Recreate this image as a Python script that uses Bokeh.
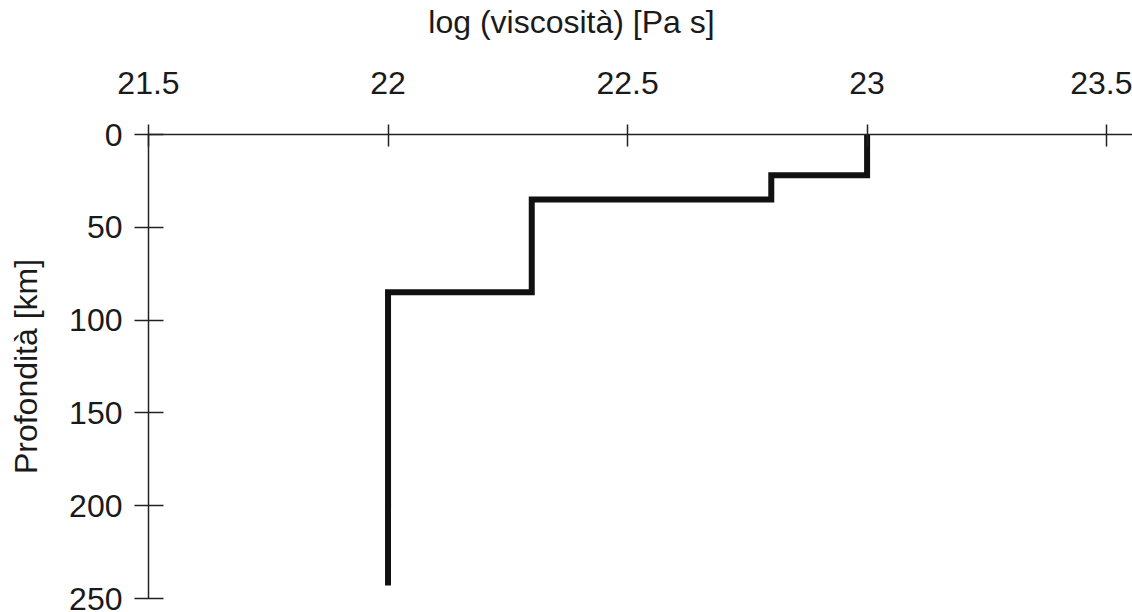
from bokeh.plotting import figure
from bokeh.models import Range1d, FixedTicker, LinearAxis
from bokeh.embed import file_html
from bokeh.resources import INLINE

# Data: viscosity layers (log10 Pa s) and layer boundaries (km)
log_viscosity = [23.0, 22.8, 22.3, 22.0]
layer_boundaries_km = [0, 22, 35, 85, 243]

x_ticks = [21.5, 22.0, 22.5, 23.0, 23.5]
x_tick_labels = ["21.5", "22", "22.5", "23", "23.5"]
y_ticks = [0, 50, 100, 150, 200, 250]
y_tick_labels = ["0", "50", "100", "150", "200", "250"]

x_title = "log (viscosità) [Pa s]"
y_title = "Profondità [km]"

# Build the step profile from the layer data
xs, ys = [], []
for i, v in enumerate(log_viscosity):
    xs += [v, v]
    ys += [layer_boundaries_km[i], layer_boundaries_km[i + 1]]

FONT = "Liberation Sans"
TITLE_CENTER = 22.383  # horizontal centre of the x-axis title (as in the original figure)

p = figure(
    width=1132, height=612,
    x_range=Range1d(21.5, 23.554), y_range=Range1d(250, 0),
    x_axis_location="above", y_axis_location="left",
    output_backend="svg", toolbar_location=None,
    min_border_left=148, min_border_right=0,
    min_border_top=134, min_border_bottom=14,
)
p.outline_line_color = None
p.xgrid.visible = False
p.ygrid.visible = False
p.background_fill_color = "white"
p.border_fill_color = "white"

p.line(xs, ys, line_width=6, line_color="#111111", line_join="miter")

xa = p.xaxis[0]
xa.ticker = FixedTicker(ticks=x_ticks)
xa.major_label_overrides = {t: l for t, l in zip(x_ticks, x_tick_labels)}
xa.minor_tick_line_color = None
xa.major_tick_out = 10
xa.major_tick_in = 12
xa.major_label_standoff = 31
xa.major_label_text_font = FONT
xa.major_label_text_font_size = "32px"
xa.major_label_text_color = "#1a1a1a"
xa.axis_line_color = "#222222"
xa.axis_line_width = 1.5
xa.major_tick_line_color = "#222222"
xa.major_tick_line_width = 1.5

ya = p.yaxis[0]
ya.ticker = FixedTicker(ticks=y_ticks)
ya.major_label_overrides = {t: l for t, l in zip(y_ticks, y_tick_labels)}
ya.minor_tick_line_color = None
ya.major_tick_out = 14
ya.major_tick_in = 15
ya.major_label_standoff = 12
ya.major_label_text_font = FONT
ya.major_label_text_font_size = "32px"
ya.major_label_text_color = "#1a1a1a"
ya.axis_line_color = "#222222"
ya.axis_line_width = 1.5
ya.major_tick_line_color = "#222222"
ya.major_tick_line_width = 1.5
ya.axis_label = y_title
ya.axis_label_text_font = FONT
ya.axis_label_text_font_size = "32px"
ya.axis_label_text_font_style = "normal"
ya.axis_label_text_color = "#1a1a1a"
ya.axis_label_standoff = 22

# x-axis title: an outer, line-less axis carrying the title text
title_axis = LinearAxis(
    ticker=FixedTicker(ticks=[TITLE_CENTER]),
    major_label_overrides={TITLE_CENTER: x_title},
    axis_line_color=None, major_tick_line_color=None, minor_tick_line_color=None,
    major_tick_out=0, major_tick_in=0, major_label_standoff=29,
    major_label_text_font=FONT, major_label_text_font_size="32px",
    major_label_text_color="#1a1a1a",
)
p.add_layout(title_axis, "above")

open("out.html", "w").write(file_html(p, INLINE))
